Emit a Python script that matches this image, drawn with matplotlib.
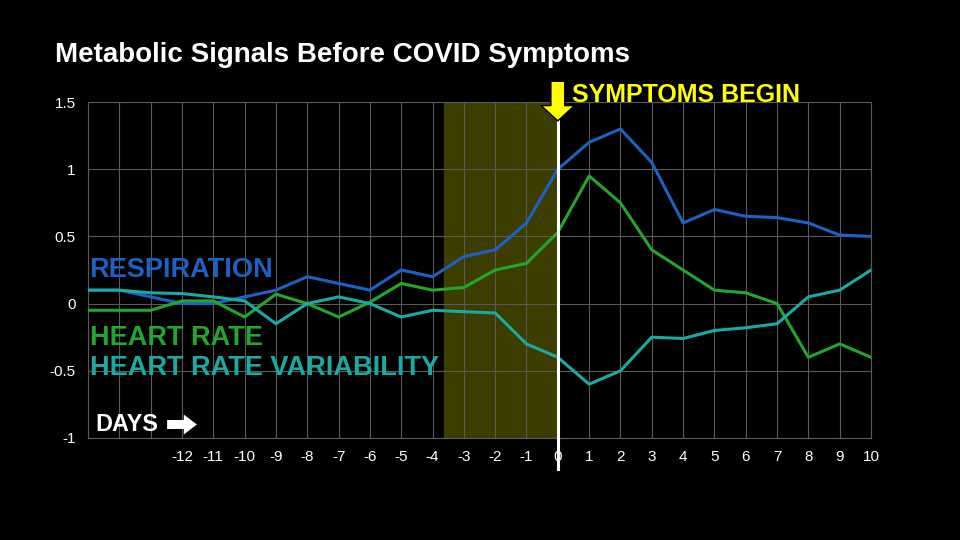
import matplotlib
matplotlib.use('Agg')

import matplotlib.pyplot as plt
import numpy as np

plt.rcParams['font.family'] = ['Liberation Sans', 'DejaVu Sans']

# Days relative to symptom onset
days = np.arange(-15, 11)

respiration = [0.1, 0.1, 0.05, 0.0, 0.0, 0.05, 0.1, 0.2, 0.15, 0.1, 0.25, 0.2, 0.35,
               0.4, 0.6, 1.0, 1.2, 1.3, 1.05, 0.6, 0.7, 0.65, 0.64, 0.6, 0.51, 0.5]
heart_rate = [-0.05, -0.05, -0.05, 0.02, 0.02, -0.1, 0.07, 0.0, -0.1, 0.01, 0.15, 0.1, 0.12,
              0.25, 0.3, 0.53, 0.95, 0.75, 0.4, 0.25, 0.1, 0.08, 0.0, -0.4, -0.3, -0.4]
hrv = [0.1, 0.1, 0.08, 0.075, 0.05, 0.02, -0.15, 0.0, 0.05, 0.0, -0.1, -0.05, -0.06,
       -0.07, -0.3, -0.4, -0.6, -0.5, -0.25, -0.26, -0.2, -0.18, -0.15, 0.05, 0.1, 0.25]

xtick_labels = [str(d) if d >= -12 else '' for d in days]
yticks = [-1, -0.5, 0, 0.5, 1, 1.5]
ytick_labels = ['-1', '-0.5', '0', '0.5', '1', '1.5']

c_resp = '#1b62c4'
c_hr = '#20a72c'
c_hrv = '#19aba3'

fig = plt.figure(figsize=(9.6, 5.4), dpi=100, facecolor='black')
ax = fig.add_axes([0.0917, 0.189, 0.8156, 0.622], facecolor='black')

# pre-symptom window (under the grid)
ax.axvspan(-3.63, 0, color='#3d3d00', zorder=0.1)

ax.plot(days, respiration, color=c_resp, lw=2.2, zorder=3)
ax.plot(days, heart_rate, color=c_hr, lw=2.2, zorder=3)
ax.plot(days, hrv, color=c_hrv, lw=2.2, zorder=3)

ax.set_xlim(-15, 10)
ax.set_ylim(-1, 1.5)
ax.set_xticks(days)
ax.set_xticklabels(xtick_labels)
ax.set_yticks(yticks)
ax.set_yticklabels(ytick_labels)
ax.tick_params(length=0, colors='white', labelsize=11)
ax.tick_params(axis='x', pad=9)
ax.tick_params(axis='y', pad=9)
ax.set_axisbelow(True)
ax.grid(color='#5a5a5a', lw=0.8)
for s in ax.spines.values():
    s.set_color('#5a5a5a')
    s.set_linewidth(0.8)

# symptom onset marker
ax.axvline(0, ymin=-0.092, ymax=0.943, color='white', lw=2.2, zorder=4, clip_on=False)
ax.annotate('', xy=(0, 1.36), xytext=(0, 1.655), annotation_clip=False,
            arrowprops=dict(arrowstyle='simple,head_width=2.4,head_length=1.1,tail_width=1.0',
                            mutation_scale=10, fc='#ffff00', ec='black', lw=1,
                            shrinkA=0, shrinkB=0), zorder=5)
ax.text(0.45, 1.556, 'SYMPTOMS BEGIN', color='#ffff00', fontsize=18, fontweight='bold',
        va='center', ha='left', clip_on=False)

# series labels
ax.text(-14.95, 0.25, 'RESPIRATION', color=c_resp, fontsize=19.5, fontweight='bold', va='center')
ax.text(-14.95, -0.257, 'HEART RATE', color=c_hr, fontsize=19.5, fontweight='bold', va='center')
ax.text(-14.95, -0.48, 'HEART RATE VARIABILITY', color=c_hrv, fontsize=19.5, fontweight='bold',
        va='center')

ax.text(-14.78, -0.9, 'DAYS', color='white', fontsize=16.8, fontweight='bold', va='center')
ax.annotate('', xy=(0.139, 0.04), xytext=(0.101, 0.04), xycoords='axes fraction',
            arrowprops=dict(arrowstyle='simple,head_width=1.44,head_length=0.94,tail_width=0.65',
                            mutation_scale=10, fc='white', ec='white', lw=0,
                            shrinkA=0, shrinkB=0))

fig.text(55 / 960, 1 - 55 / 540, 'Metabolic Signals Before COVID Symptoms', color='white',
         fontsize=20, fontweight='bold', va='center', ha='left')

plt.savefig('out.png', dpi=100, facecolor='black')
